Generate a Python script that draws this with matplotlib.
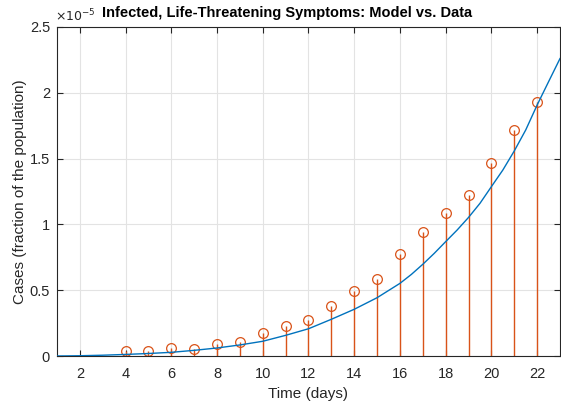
import numpy as np
import matplotlib.pyplot as plt
from matplotlib.ticker import FuncFormatter

# values in units of 1e-5 (fraction of the population)
model_days = [1, 2, 3, 4, 5, 6, 7, 8, 9, 10, 11, 12, 13, 14, 15, 16, 16.5, 17, 17.5, 18, 18.5,
              19, 19.5, 20, 20.5, 21, 21.5, 22, 22.5, 23]
model_cases = [0.000, 0.002, 0.006, 0.012, 0.019, 0.028, 0.043, 0.061, 0.084, 0.112, 0.157, 0.207,
               0.279, 0.355, 0.443, 0.552, 0.620, 0.697, 0.780, 0.869, 0.957, 1.053, 1.160,
               1.287, 1.413, 1.558, 1.717, 1.907, 2.084, 2.260]
data_days = [4, 5, 6, 7, 8, 9, 10, 11, 12, 13, 14, 15, 16, 17, 18, 19, 20, 21, 22]
data_cases = [0.040, 0.036, 0.058, 0.053, 0.091, 0.103, 0.172, 0.230, 0.276, 0.380, 0.492,
              0.585, 0.773, 0.945, 1.087, 1.225, 1.468, 1.720, 1.930]
xticks = [2, 4, 6, 8, 10, 12, 14, 16, 18, 20, 22]
yticks = [0, 0.5, 1, 1.5, 2, 2.5]

blue = "#0072BD"
orange = "#D95319"
dark = "#262626"

plt.rcParams['font.family'] = ['Liberation Sans', 'DejaVu Sans']
plt.rcParams['xtick.direction'] = 'in'
plt.rcParams['ytick.direction'] = 'in'

fig = plt.figure(figsize=(5.61, 4.04), dpi=100)
ax = fig.add_axes([0.1016, 0.1188, 0.8966, 0.8144])

ax.plot(model_days, model_cases, color=blue, lw=1.0, zorder=3)
ax.vlines(data_days, 0, data_cases, color=orange, lw=1.0, zorder=2)
ax.plot(data_days, data_cases, ls="none", marker="o", ms=7, mfc="none", mec=orange, mew=0.9, zorder=2)

ax.set_xlim(1, 23)
ax.set_ylim(0, 2.5)
ax.set_xticks(xticks)
ax.set_yticks(yticks)
ax.yaxis.set_major_formatter(FuncFormatter(lambda v, p: "%g" % v))
ax.grid(True, color="#E3E3E3", lw=0.8)
ax.set_axisbelow(True)
ax.tick_params(colors=dark, labelsize=10.5, length=4, width=0.8, top=True, right=True)
ax.tick_params(axis="x", pad=8)
ax.tick_params(axis="y", pad=5)
for s in ax.spines.values():
    s.set_color(dark)
    s.set_linewidth(0.8)

ax.set_xlabel("Time (days)", fontsize=11, color=dark, labelpad=4.5)
ax.set_ylabel("Cases (fraction of the population)", fontsize=11, color=dark, labelpad=2)
ax.set_title("Infected, Life-Threatening Symptoms: Model vs. Data", fontsize=10.5,
             fontweight="bold", x=0.458, pad=7)
ax.text(-0.004, 1.008, r"$\times10^{-5}$", transform=ax.transAxes, fontsize=9, color=dark,
        ha="left", va="bottom")

fig.savefig("out.png", dpi=100)
